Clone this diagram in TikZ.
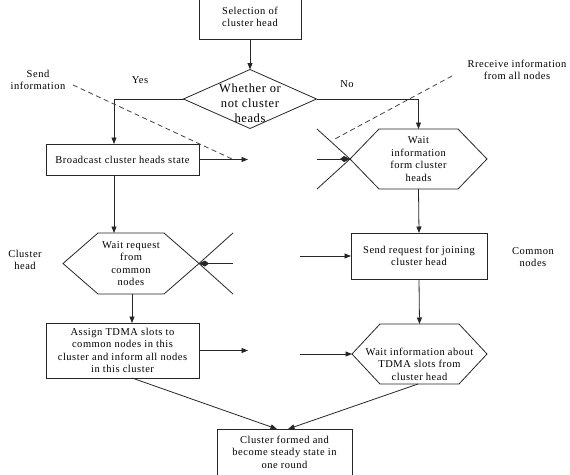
\documentclass[tikz,border=0pt]{standalone}
\usepackage{fontspec}
\setmainfont{Liberation Serif}[LetterSpace=5]
\usetikzlibrary{arrows.meta}
\begin{document}
\begin{tikzpicture}[x=1pt,y=-1pt,
  line/.style={draw=black!85,line width=0.8pt},
  arr/.style={line,-{Triangle[length=6.5pt,width=5pt]}},
  bigarr/.style={line,-{Kite[length=10pt,width=6pt,inset=4pt]}},
  dsh/.style={draw=black!75,line width=0.8pt,dash pattern=on 5pt off 3.5pt},
  txt/.style={align=center,inner sep=0pt,outer sep=0pt,font=\fontsize{10.5}{12.6}\selectfont},
  box/.style={txt,line,rectangle},
  hexn/.style={txt,rectangle},
]
\useasboundingbox (0,0) rectangle (570,474);
\newcommand\hexdraw[2]{\draw[line] (#1.west) -- ([xshift=#2pt]#1.north west) -- ([xshift=-#2pt]#1.north east) -- (#1.east) -- ([xshift=-#2pt]#1.south east) -- ([xshift=#2pt]#1.south west) -- cycle;}

% boxes
\node[box,minimum width=102pt,minimum height=44pt] (sel) at (250,17) {Selection of\\cluster head};
\node[txt,minimum width=133pt,minimum height=59pt] (dia) at (250,99) {};
\draw[line] (dia.north) -- (dia.east) -- (dia.south) -- (dia.west) -- cycle;
\node[txt,font=\fontsize{12.5}{15}\selectfont] (diat) at (250,103) {Whether or\\not cluster\\heads};
\node[box,minimum width=153pt,minimum height=31pt] (bc) at (122.5,159.5) {Broadcast cluster heads state};
\node[hexn,minimum width=137pt,minimum height=60pt] (h1) at (418.5,159) {Wait\\information\\form cluster\\heads};
\hexdraw{h1}{29}
\node[hexn,minimum width=136pt,minimum height=61pt] (h2) at (131,263.5) {Wait request\\from\\common\\nodes};
\hexdraw{h2}{35}
\node[box,minimum width=136pt,minimum height=46pt] (sr) at (419,256) {Send request for joining\\cluster head};
\node[box,minimum width=153pt,minimum height=55pt] (as) at (122.5,350.5) {Assign TDMA slots to\\common nodes in this\\cluster and inform all nodes\\in this cluster};
\node[hexn,minimum width=135pt,minimum height=60pt] (h3) at (419.5,354) {};
\hexdraw{h3}{28}
\node[txt] (h3t) at (419.5,364) {Wait information about\\TDMA slots from\\cluster head};
\node[box,minimum width=135pt,minimum height=46pt] (cf) at (284.5,452) {Cluster formed and\\become steady state in\\one round};

% labels
\node[txt] (yes) at (140,80) {Yes};
\node[txt] (no) at (347,84) {No};
\node[txt] (send) at (38,80) {Send\\information};
\node[txt] (recv) at (517,70) {Rreceive information\\from all nodes};
\node[txt] (ch) at (25,260) {Cluster\\head};
\node[txt] (cn) at (533,257) {Common\\nodes};

% connectors
\draw[arr] (sel.south) -- (dia.north);
\draw[arr] (dia.west) -| ([xshift=-8.5pt]bc.north);
\draw[arr] (dia.east) -| (h1.north);
\coordinate (bcend) at (248,159.5);
\draw[arr] (bc.east) -- (bcend);
\coordinate (sendA) at (73,85);
\coordinate (sendB) at (232,159);
\draw[dsh] (sendA) -- (sendB);
\coordinate (recvA) at (452,76);
\coordinate (recvB) at (333,140);
\draw[dsh] (recvA) -- (recvB);
% star at h1
\coordinate (s1a) at (317,129);
\coordinate (s1b) at (317,159);
\coordinate (s1c) at (317,189);
\draw[line] (s1a) -- (h1.west);
\draw[line] (s1c) -- (h1.west);
\draw[bigarr] (s1b) -- (h1.west);
\draw[arr] (h1.south) -- (sr.north);
\coordinate (srin) at (300,256);
\draw[arr] (srin) -- (sr.west);
\draw[arr] ([xshift=-8.5pt]bc.south) -- ([xshift=-17pt]h2.north);
% star at h2
\coordinate (s2a) at (233,233);
\coordinate (s2b) at (233,263.5);
\coordinate (s2c) at (233,294);
\draw[line] (s2a) -- (h2.east);
\draw[line] (s2c) -- (h2.east);
\draw[bigarr] (s2b) -- (h2.east);
\draw[arr] ([xshift=1pt]h2.south) -- ([xshift=9.5pt]as.north);
\coordinate (asend) at (248,350.5);
\draw[arr] (as.east) -- (asend);
\coordinate (h3in) at (300,354);
\draw[arr] (h3in) -- (h3.west);
\draw[arr] (sr.south) -- (h3.north);
\draw[arr] ([xshift=9.5pt]as.south) -- ([xshift=-7.5pt]cf.north);
\draw[arr] ([xshift=-1.5pt]h3.south) -- ([xshift=3.5pt]cf.north);
\end{tikzpicture}
\end{document}
